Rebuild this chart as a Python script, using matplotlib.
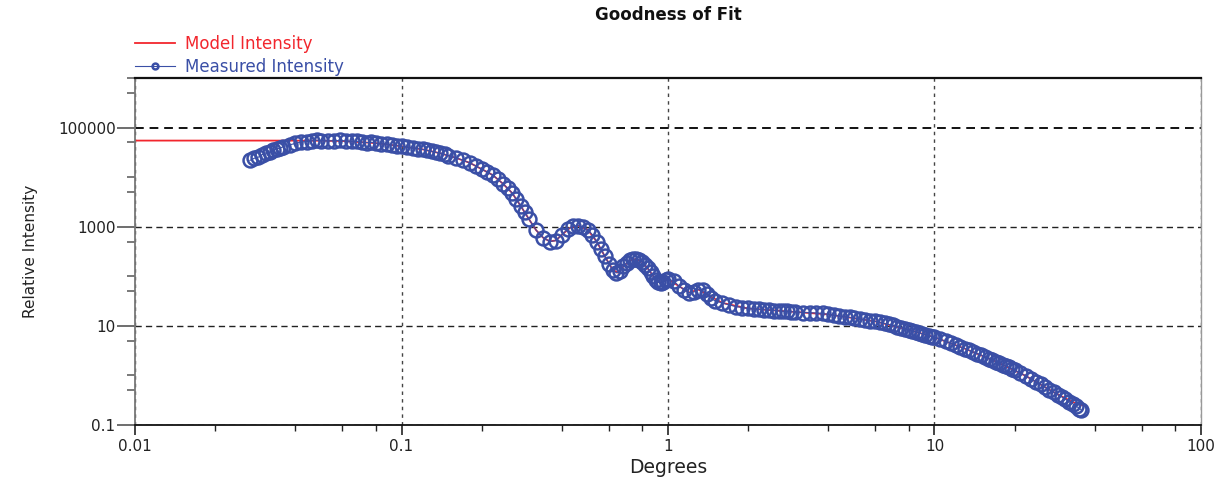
import matplotlib
matplotlib.use("Agg")
import matplotlib.pyplot as plt
from matplotlib.ticker import LogLocator, FixedLocator, FuncFormatter, NullFormatter

# ---------------- DATA ----------------
# model curve (red line)
model_deg = [0.01, 0.02, 0.03, 0.04, 0.05, 0.06, 0.08, 0.10, 0.12, 0.14,
             0.16, 0.18, 0.20, 0.22, 0.24, 0.26, 0.28, 0.30, 0.32, 0.34,
             0.36, 0.38, 0.40, 0.43, 0.46, 0.50, 0.54, 0.58, 0.62, 0.65,
             0.68, 0.72, 0.76, 0.80, 0.85, 0.90, 0.94, 1.00, 1.10, 1.20,
             1.30, 1.40, 1.60, 2.0, 3.0, 4.0, 6.0, 8.0, 10.0, 13.0,
             17.0, 22.0, 28.0, 33.0, 36.4]
model_int = [54600, 54600, 54600, 54500, 54200, 53600, 48500, 42000, 36300, 30200,
             24500, 19500, 14500, 11000, 7400, 4790, 2630, 1450, 850, 600,
             505, 530, 690, 960, 1050, 870, 500, 250, 135, 118,
             158, 209, 224, 195, 132, 85, 74, 88, 63, 47,
             54, 43, 29, 22.4, 19.1, 17.0, 12.3, 8.32, 5.89, 3.47,
             1.91, 0.98, 0.46, 0.29, 0.245]

# measured curve (blue circles)
meas_deg = [0.027, 0.028, 0.029, 0.030, 0.031, 0.032, 0.033, 0.034, 0.035, 0.036,
            0.038, 0.040, 0.042, 0.044, 0.046, 0.048, 0.050, 0.053, 0.056, 0.059,
            0.062, 0.065, 0.068, 0.071, 0.074, 0.077, 0.080, 0.084, 0.088, 0.092,
            0.096, 0.100,
            0.105, 0.110, 0.115, 0.120, 0.125, 0.130, 0.135, 0.140, 0.145, 0.150,
            0.16, 0.17, 0.18, 0.19, 0.20, 0.21, 0.22, 0.23, 0.24, 0.25,
            0.26, 0.27, 0.28, 0.29, 0.30,
            0.32, 0.34, 0.36, 0.38, 0.40, 0.42, 0.44, 0.46, 0.48, 0.50,
            0.52, 0.54, 0.56, 0.58, 0.60, 0.62, 0.64, 0.66, 0.68, 0.70,
            0.72, 0.74, 0.76, 0.78, 0.80, 0.82, 0.84, 0.86, 0.88, 0.90,
            0.92, 0.94, 0.96, 0.98, 1.00,
            1.05, 1.10, 1.15, 1.20, 1.25, 1.30, 1.35, 1.40, 1.45, 1.50,
            1.6, 1.7, 1.8, 1.9, 2.0, 2.1, 2.2, 2.3, 2.4, 2.5,
            2.6, 2.7, 2.8, 2.9, 3.0,
            3.2, 3.4, 3.6, 3.8, 4.0, 4.2, 4.4, 4.6, 4.8, 5.0,
            5.25, 5.5, 5.75, 6.0, 6.25, 6.5, 6.75, 7.0, 7.25, 7.5,
            7.75, 8.0, 8.25, 8.5, 8.75, 9.0, 9.25, 9.5, 9.75, 10.0,
            10.5, 11.0, 11.5, 12.0, 12.5, 13.0, 13.5, 14.0, 14.5, 15.0,
            15.5, 16.0, 16.5, 17.0, 17.5, 18.0, 18.5, 19.0, 19.5, 20.0,
            21, 22, 23, 24, 25, 26, 27, 28, 29, 30,
            31, 32, 33, 34, 35, 35.5]
meas_int = [21800, 24000, 25200, 28500, 30900, 32000, 35100, 37200, 38600, 41200,
            44700, 48000, 51300, 52000, 53700, 55500, 54700, 53800, 54300, 55200,
            53300, 52500, 53000, 50700, 49800, 50200, 48200, 47100, 46300, 44500,
            43200, 41900,
            40300, 38900, 37600, 36300, 34700, 33100, 31600, 30200, 28700, 27200,
            24500, 21900, 19500, 16800, 14500, 12600, 11000, 9000, 7400, 5960,
            4790, 3550, 2630, 1950, 1450,
            851, 603, 501, 525, 692, 891, 1020, 1050, 1000, 871,
            692, 501, 355, 251, 178, 135, 117, 126, 158, 186,
            209, 221, 224, 214, 195, 170, 145, 120, 100, 85,
            76, 74, 78, 83, 88,
            81, 63, 54, 47, 48, 54, 52, 43, 36, 32,
            29, 26.3, 24.5, 23.4, 22.4, 21.9, 21.4, 21.1, 20.9, 20.4,
            20.0, 19.7, 19.5, 19.3, 19.1,
            18.6, 18.4, 18.2, 17.8, 17.0, 16.4, 15.8, 15.3, 14.8, 14.3,
            13.8, 13.2, 12.6, 12.3, 11.7, 11.2, 10.7, 10.2, 9.66, 9.12,
            8.71, 8.32, 7.94, 7.59, 7.24, 6.92, 6.61, 6.31, 6.10, 5.89,
            5.37, 4.90, 4.47, 4.07, 3.76, 3.47, 3.20, 2.95, 2.75, 2.57,
            2.37, 2.19, 2.04, 1.91, 1.78, 1.66, 1.57, 1.48, 1.38, 1.29,
            1.12, 0.977, 0.851, 0.741, 0.661, 0.575, 0.513, 0.457, 0.407, 0.372,
            0.331, 0.295, 0.269, 0.240, 0.214, 0.204]

x_ticks = [0.01, 0.1, 1, 10, 100]
y_ticks = [0.1, 10, 1000, 100000]

RED = "#f2262d"
BLUE = "#3a4fa6"

plt.rcParams["font.family"] = "DejaVu Sans"

fig = plt.figure(figsize=(12.22, 4.79), dpi=100)
ax = fig.add_axes([0.1105, 0.1127, 0.8723, 0.7245])

ax.plot(model_deg, model_int, color=RED, lw=1.3, label="Model Intensity", zorder=2)
ax.plot(meas_deg, meas_int, color=BLUE, lw=0.8, marker="o", ms=10,
        mfc="none", mec=BLUE, mew=1.8, label="Measured Intensity", zorder=3)

ax.set_xscale("log")
ax.set_yscale("log")
ax.set_xlim(0.01, 100)
ax.set_ylim(0.1, 1e6)

fmt = FuncFormatter(lambda v, p: f"{v:g}")
ax.xaxis.set_major_locator(FixedLocator(x_ticks))
ax.xaxis.set_major_formatter(fmt)
ax.xaxis.set_minor_locator(LogLocator(base=10, subs=(2, 4, 6, 8)))
ax.xaxis.set_minor_formatter(NullFormatter())
ax.yaxis.set_major_locator(FixedLocator(y_ticks))
ax.yaxis.set_major_formatter(fmt)
ax.yaxis.set_minor_locator(LogLocator(base=10, subs=(1.0, 5.0), numticks=20))
ax.yaxis.set_minor_formatter(NullFormatter())

# grid
ax.grid(True, which="major", axis="y", color="#222222", ls=(0, (4.5, 3)), lw=1.0)
ax.grid(True, which="major", axis="x", color="#444444", ls=(0, (2.5, 3)), lw=1.0)
for line, loc in zip(ax.get_ygridlines(), ax.get_yticks()):
    if loc == 100000:
        line.set_linewidth(1.4)
        line.set_color("#111111")

# spines
ax.spines["top"].set_color("#111111")
ax.spines["top"].set_linewidth(1.6)
ax.spines["bottom"].set_color("#111111")
ax.spines["bottom"].set_linewidth(1.3)
ax.spines["left"].set_color("#777777")
ax.spines["left"].set_linewidth(1.3)
ax.spines["right"].set_color("#999999")
ax.spines["right"].set_linewidth(1.0)

ax.tick_params(axis="y", which="major", direction="out", length=13, width=1.2,
               color="#555555", pad=1, labelsize=11, labelcolor="#222222")
ax.tick_params(axis="y", which="minor", direction="out", length=6, width=1.1, color="#555555")
ax.tick_params(axis="x", which="major", direction="out", length=7, width=1.2,
               color="#222222", pad=3, labelsize=11, labelcolor="#222222")
ax.tick_params(axis="x", which="minor", direction="out", length=4, width=1.0, color="#222222")

ax.set_xlabel("Degrees", fontsize=13.5, color="#222222")
ax.xaxis.set_label_coords(0.5, -0.095)
ax.set_ylabel("Relative Intensity", fontsize=11, color="#222222")
ax.yaxis.set_label_coords(-0.091, 0.5)

ax.set_title("Goodness of Fit", fontweight="bold", fontsize=12, pad=42, color="#111111")

ax.legend(loc="lower left", bbox_to_anchor=(0.0, 1.005), frameon=False, fontsize=12,
          handlelength=2.4, handletextpad=0.6, labelspacing=0.3, borderaxespad=0,
          borderpad=0, numpoints=1, markerscale=0.42, labelcolor="linecolor")

fig.savefig("out.png", dpi=100)
